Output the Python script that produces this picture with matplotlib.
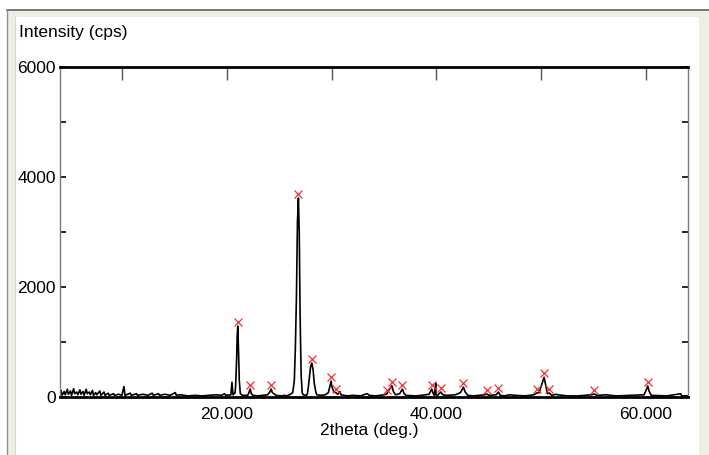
import matplotlib
matplotlib.use("Agg")
import matplotlib.pyplot as plt
import matplotlib.transforms as mtransforms
from matplotlib import font_manager
from matplotlib.lines import Line2D
from matplotlib.patches import Rectangle

# narrow sans if the system has one, otherwise the Arial-like Liberation Sans
names = {f.name for f in font_manager.fontManager.ttflist}
if 'Liberation Sans Narrow' in names:
    plt.rcParams['font.family'] = ['Liberation Sans Narrow', 'DejaVu Sans']
    FS = 13
else:
    plt.rcParams['font.family'] = ['Liberation Sans', 'DejaVu Sans']
    FS = 12.5

two_theta = [
    4.1, 4.2, 4.3, 4.5, 4.6, 4.8, 4.9, 5.1, 5.2, 5.4, 5.5, 5.7, 5.8, 6.0, 6.1,
    6.3, 6.4, 6.6, 6.7, 6.9, 7.0, 7.2, 7.3, 7.5, 7.6, 7.9, 8.0, 8.3, 8.4, 8.7,
    8.8, 9.2, 9.3, 9.7, 10.0, 10.2, 10.3, 10.8, 10.9, 11.4, 11.5, 12.0, 12.5,
    12.9, 13.0, 13.5, 13.6, 14.1, 14.6, 15.1, 15.2, 15.6, 16.3, 17.0, 17.6,
    18.3, 19.0, 19.5, 19.8, 19.9, 20.4, 20.5, 20.6, 20.8,
    20.85, 20.95, 21.0, 21.06, 21.12, 21.2, 21.3, 21.5,
    22.0, 22.1, 22.24, 22.35, 22.5, 23.0, 23.5,
    23.9, 24.1, 24.24, 24.35, 24.5, 24.7, 25.2,
    25.5, 25.7, 26.0, 26.3, 26.45, 26.55, 26.65, 26.75, 26.84, 26.92, 27.0,
    27.1, 27.2, 27.3, 27.6,
    27.7, 27.8, 27.9, 28.0, 28.12, 28.25, 28.35, 28.5, 28.6, 29.0, 29.4,
    29.7, 29.85, 29.96, 30.05, 30.2, 30.44, 30.6, 30.8, 30.9, 31.5,
    32.0, 32.8, 33.2, 33.4, 33.6, 34.2, 35.0, 35.27, 35.45, 35.6, 35.75, 35.9,
    36.1, 36.5, 36.76, 36.9, 37.1, 38.0, 38.6, 39.3, 39.56, 39.7, 39.8,
    39.94, 39.96, 40.1, 40.42, 40.6, 41.0, 41.8, 42.3, 42.58, 42.75, 43.0,
    43.5, 44.6, 44.81, 45.0, 45.7, 45.91, 46.1, 46.5, 47.0, 47.5, 48.5, 49.3,
    49.58, 49.8, 50.0, 50.27, 50.45, 50.6, 50.78, 51.0, 51.4, 51.6, 52.5,
    53.5, 54.8, 55.04, 55.3, 56.2, 56.6, 57.2, 59.8, 60.0, 60.16, 60.3, 60.5,
    62.0, 63.3, 63.4, 64.0,
]
intensity = [
    40, 120, 30, 100, 40, 140, 50, 110, 30, 150, 60, 90, 40, 130, 50,
    100, 30, 140, 60, 90, 40, 120, 30, 80, 40, 110, 30, 90, 30, 70,
    30, 60, 30, 50, 30, 190, 30, 70, 30, 60, 30, 50, 30,
    70, 30, 60, 30, 50, 30, 80, 30, 40, 20, 30, 20,
    30, 40, 30, 60, 30, 40, 270, 40, 80,
    200, 700, 1100, 1290, 900, 300, 60, 30,
    30, 70, 145, 60, 30, 20, 30,
    40, 90, 145, 80, 60, 30, 20,
    30, 20, 40, 80, 300, 900, 1800, 3200, 3618, 3000, 1500,
    400, 80, 40, 30,
    60, 200, 380, 550, 618, 480, 250, 90, 40, 30, 40,
    80, 200, 290, 180, 100, 73, 50, 100, 40, 20,
    30, 20, 50, 60, 30, 20, 40, 55, 120, 160, 205, 100,
    40, 60, 145, 70, 30, 20, 30, 50, 145, 60, 30,
    250, 40, 30, 90, 40, 30, 40, 80, 180, 90, 30,
    20, 40, 55, 30, 40, 90, 30, 20, 40, 30, 20, 40,
    73, 80, 200, 358, 200, 60, 73, 30, 50, 40, 20,
    20, 40, 55, 30, 40, 30, 20, 40, 120, 200, 100, 30,
    20, 60, 20, 20,
]

# identified peaks (red marks)
peak_pos = [21.06, 22.24, 24.24, 26.84, 28.12, 29.96, 30.44, 35.27, 35.75,
            36.76, 39.56, 40.42, 42.58, 44.81, 45.91, 49.58, 50.27, 50.78,
            55.04, 60.16]
peak_int = [1290, 145, 145, 3618, 618, 290, 73, 55, 205,
            145, 145, 90, 180, 55, 90, 73, 358, 73,
            55, 200]

x_labels = [20, 40, 60]
x_top_ticks = [10, 20, 30, 40, 50, 60]
y_labels = [0, 2000, 4000, 6000]
y_ticks = [0, 1000, 2000, 3000, 4000, 5000, 6000]

W, H = 709, 455
fig = plt.figure(figsize=(W / 100, H / 100), dpi=100)
fig.patch.set_facecolor('white')

# window frame, kept behind the axes
beige = '#efeee4'
frame = [
    Rectangle((7 / W, 0), 8 / W, (H - 10) / H, facecolor=beige, edgecolor='none'),
    Rectangle((7 / W, (H - 17) / H), (W - 7) / W, 7 / H, facecolor=beige, edgecolor='none'),
    Rectangle((699 / W, 0), 10 / W, (H - 10) / H, facecolor=beige, edgecolor='none'),
    Line2D([7 / W, 1], [(H - 10) / H] * 2, color='#606060', lw=1.2),
    Line2D([7 / W] * 2, [0, (H - 10) / H], color='#909090', lw=1.0),
    Line2D([15 / W] * 2, [0, (H - 17) / H], color='#d8d8cc', lw=0.8),
]
for a in frame:
    a.set_transform(fig.transFigure)
    a.set_zorder(-10)
    fig.add_artist(a)

ax = fig.add_axes([60 / W, 58 / H, 628 / W, 330 / H])
ax.plot(two_theta, intensity, color='black', lw=1.2)

mark_tr = mtransforms.offset_copy(ax.transData, fig=fig, x=0, y=3, units='points')
ax.plot(peak_pos, peak_int, 'x', color='#ff2a2a', ms=6, mew=0.9,
        transform=mark_tr, zorder=5)

ax.set_xlim(4.1, 64.0)
ax.set_ylim(0, 6000)

for side in ['top', 'bottom']:
    ax.spines[side].set_linewidth(2.0)
    ax.spines[side].set_color('black')
for side in ['left', 'right']:
    ax.spines[side].set_linewidth(1.0)
    ax.spines[side].set_color('#7a7a7a')

ax.set_xticks(x_labels)
ax.set_xticklabels(['%.3f' % v for v in x_labels], fontsize=FS)
ax.tick_params(axis='x', bottom=False, top=False, pad=4)

# ticks along the top edge
tax = ax.secondary_xaxis('top')
tax.set_xticks(x_top_ticks)
tax.set_xticklabels([])
tax.tick_params(direction='in', length=9, width=1, color='#555555')

ax.set_yticks(y_ticks)
ax.set_yticklabels([str(v) if v in y_labels else '' for v in y_ticks], fontsize=FS)
ax.tick_params(axis='y', direction='in', length=4, width=1.2, left=True, right=True,
               pad=3, color='black')

fig.text(19 / W, 1 - 33 / H, 'Intensity (cps)', fontsize=FS, va='center', ha='left')
fig.text(369 / W, 1 - 431 / H, '2theta (deg.)', fontsize=FS, va='center', ha='center')

fig.savefig('out.png', dpi=100)
